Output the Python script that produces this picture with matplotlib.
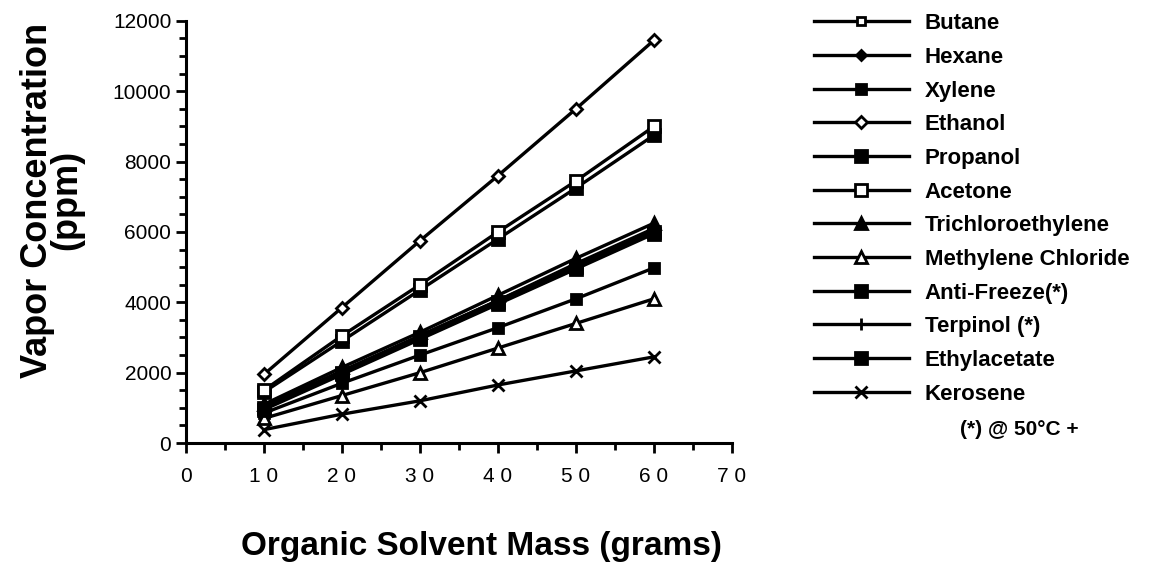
import numpy as np
import matplotlib.pyplot as plt

plt.rcParams['font.family'] = ['Liberation Sans', 'DejaVu Sans']

# masa solventului (g)
mass = [10, 20, 30, 40, 50, 60]

butane = [1000, 2000, 3000, 4000, 5000, 6000]
hexane = [1050, 2050, 3050, 4050, 5100, 6100]
xylene = [850, 1700, 2500, 3280, 4100, 4980]
ethanol = [1950, 3850, 5750, 7600, 9500, 11450]
propanol = [1450, 2900, 4350, 5800, 7250, 8750]
acetone = [1500, 3050, 4500, 6000, 7450, 9000]
trichloro = [1100, 2150, 3150, 4200, 5250, 6250]
methylene = [700, 1350, 2000, 2700, 3400, 4100]
antifreeze = [950, 1950, 2950, 3950, 4950, 5950]
terpinol = [1000, 2000, 3050, 4050, 5050, 6050]
ethylacetate = [1000, 2000, 3000, 4000, 5000, 6000]
kerosene = [380, 820, 1200, 1650, 2050, 2450]

names = ['Butane', 'Hexane', 'Xylene', 'Ethanol', 'Propanol', 'Acetone',
         'Trichloroethylene', 'Methylene Chloride', 'Anti-Freeze(*)',
         'Terpinol (*)', 'Ethylacetate', 'Kerosene']
series = [butane, hexane, xylene, ethanol, propanol, acetone, trichloro,
          methylene, antifreeze, terpinol, ethylacetate, kerosene]

# (marker, facecolor, size)
styles = [('s', 'white', 6), ('D', 'black', 5), ('s', 'black', 7),
          ('D', 'white', 6), ('s', 'black', 8), ('s', 'white', 9),
          ('^', 'black', 9), ('^', 'white', 8), ('s', 'black', 8),
          ('|', 'black', 9), ('s', 'black', 8), ('x', 'black', 9)]

fig = plt.figure(figsize=(11.62, 5.69), dpi=100)
ax = fig.add_axes([0.160, 0.2214, 0.470, 0.742])

for name, vals, (m, fc, ms) in zip(names, series, styles):
    ax.plot(mass, vals, color='black', lw=2.4, marker=m, markersize=ms,
            markerfacecolor=fc, markeredgecolor='black', markeredgewidth=2,
            label=name)

ax.set_xlim(0, 70)
ax.set_ylim(0, 12000)
ax.set_xticks(range(0, 71, 10))
ax.set_xticklabels([' '.join(str(v)) for v in range(0, 71, 10)])
ax.set_xticks(range(0, 71, 5), minor=True)
ax.set_yticks(range(0, 12001, 2000))
ax.set_yticks(range(0, 12001, 500), minor=True)
ax.spines['top'].set_visible(False)
ax.spines['right'].set_visible(False)
ax.spines['left'].set_linewidth(2.2)
ax.spines['bottom'].set_linewidth(2.2)
ax.tick_params(axis='both', which='major', width=2, length=7, labelsize=15)
ax.tick_params(axis='both', which='minor', width=2, length=5)
ax.tick_params(axis='x', pad=10)

fig.text(0.045, 0.648, 'Vapor Concentration\n(ppm)', rotation=90,
         fontsize=26, fontweight='bold', linespacing=0.8,
         ha='center', va='center', multialignment='center')
fig.text(0.414, 0.0246, 'Organic Solvent Mass (grams)', fontsize=24,
         fontweight='bold', ha='center', va='baseline')

leg = fig.legend(loc='upper left', bbox_to_anchor=(0.683, 1.012),
                 frameon=False, numpoints=1, handlelength=4.3,
                 handletextpad=0.7, labelspacing=0.57,
                 prop={'weight': 'bold', 'size': 16})
fig.text(0.826, 0.235, '(*) @ 50°C +', fontsize=15, fontweight='bold')

fig.savefig('out.png', dpi=100)
